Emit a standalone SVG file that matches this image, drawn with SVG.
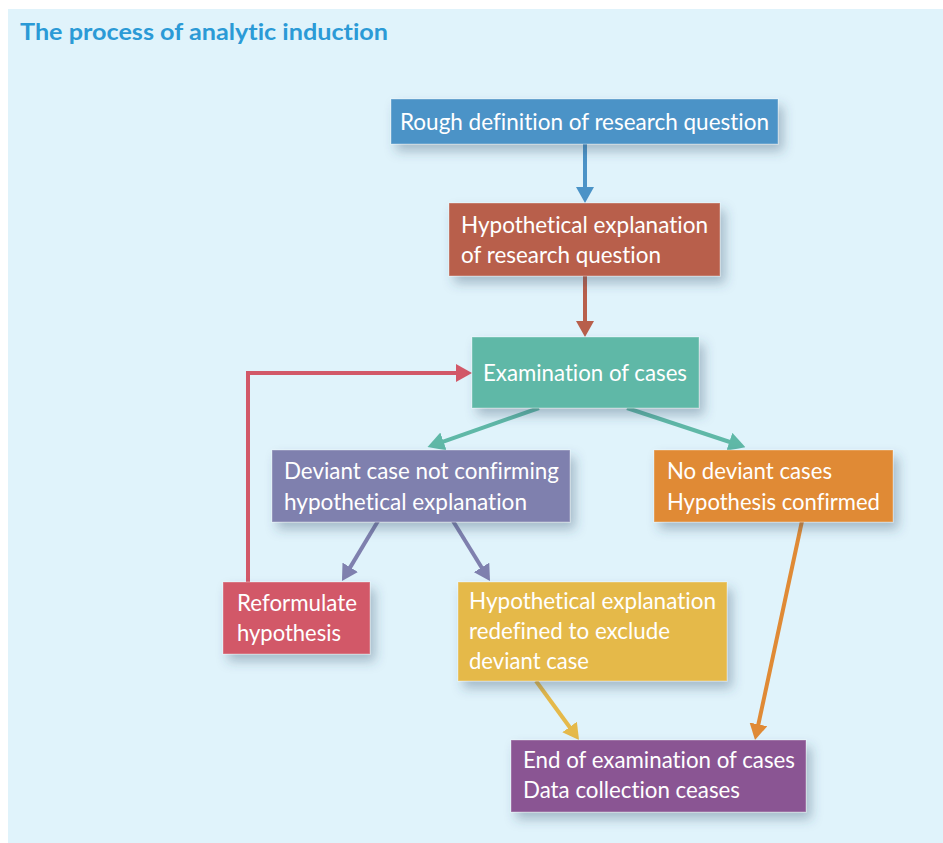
<svg xmlns="http://www.w3.org/2000/svg" width="943" height="843" viewBox="0 0 943 843">
<style>
.t{font-family:Lato,"Open Sans","Liberation Sans",sans-serif;font-size:23.5px;fill:#ffffff;font-variant-ligatures:none}
.title{font-family:Lato,"Open Sans","Liberation Sans",sans-serif;font-size:23.5px;font-weight:bold;fill:#2b9ad6;font-variant-ligatures:none}
.box{filter:url(#sh);stroke:#ffffff;stroke-opacity:0.35;stroke-width:1}
.c{fill:none;stroke-width:4}
</style>
<defs>
<filter id="sh" x="-20%" y="-30%" width="150%" height="180%">
<feDropShadow dx="5" dy="7" stdDeviation="6" flood-color="#35506a" flood-opacity="0.35"/>
</filter>
<marker id="mBlue" viewBox="0 0 16 18" refX="8" refY="9" markerWidth="16" markerHeight="18" markerUnits="userSpaceOnUse" orient="auto"><path d="M0,0 L16,9 L0,18 z" fill="#4b93c7"/></marker>
<marker id="mBrown" viewBox="0 0 16 18" refX="8" refY="9" markerWidth="16" markerHeight="18" markerUnits="userSpaceOnUse" orient="auto"><path d="M0,0 L16,9 L0,18 z" fill="#b85f4b"/></marker>
<marker id="mTeal" viewBox="0 0 16 18" refX="8" refY="9" markerWidth="17" markerHeight="19" markerUnits="userSpaceOnUse" orient="auto"><path d="M0,0 L16,9 L0,18 z" fill="#5fb8a7"/></marker>
<marker id="mSlate" viewBox="0 0 16 18" refX="8" refY="9" markerWidth="16" markerHeight="18" markerUnits="userSpaceOnUse" orient="auto"><path d="M0,0 L16,9 L0,18 z" fill="#7f80ae"/></marker>
<marker id="mRed" viewBox="0 0 16 18" refX="8" refY="9" markerWidth="16" markerHeight="18" markerUnits="userSpaceOnUse" orient="auto"><path d="M0,0 L16,9 L0,18 z" fill="#d25868"/></marker>
<marker id="mYellow" viewBox="0 0 16 18" refX="8" refY="9" markerWidth="16" markerHeight="18" markerUnits="userSpaceOnUse" orient="auto"><path d="M0,0 L16,9 L0,18 z" fill="#e5b94a"/></marker>
<marker id="mOrange" viewBox="0 0 16 18" refX="8" refY="9" markerWidth="16" markerHeight="18" markerUnits="userSpaceOnUse" orient="auto"><path d="M0,0 L16,9 L0,18 z" fill="#e08a35"/></marker>
</defs>
<rect x="0" y="0" width="943" height="843" fill="#ffffff"/>
<rect x="8" y="9" width="935" height="834" fill="#e0f3fb"/>
<text class="title" x="20" y="40" textLength="368" lengthAdjust="spacingAndGlyphs">The process of analytic induction</text>

<g id="connectors">
<line class="c" stroke="#4b93c7" x1="585" y1="144" x2="585" y2="195" marker-end="url(#mBlue)"/>
<line class="c" stroke="#b85f4b" x1="585" y1="276" x2="585" y2="329" marker-end="url(#mBrown)"/>
<line class="c" stroke="#5fb8a7" x1="539" y1="408" x2="435.5" y2="444.3" marker-end="url(#mTeal)"/>
<line class="c" stroke="#5fb8a7" x1="627" y1="408" x2="737.4" y2="444.5" marker-end="url(#mTeal)"/>
<line class="c" stroke="#7f80ae" x1="378" y1="521" x2="346.1" y2="574.1" marker-end="url(#mSlate)"/>
<line class="c" stroke="#7f80ae" x1="453" y1="521" x2="485.8" y2="574.2" marker-end="url(#mSlate)"/>
<polyline class="c" stroke="#d25868" points="248,582 248,373 464,373" marker-end="url(#mRed)"/>
<line class="c" stroke="#e5b94a" x1="536" y1="681" x2="574.3" y2="733.5" marker-end="url(#mYellow)"/>
<line class="c" stroke="#e08a35" x1="802" y1="521" x2="756.7" y2="732.2" marker-end="url(#mOrange)"/>
</g>

<g id="n1">
<rect class="box" x="391" y="99" width="387" height="45" fill="#4b93c7"/>
<text class="t" x="400" y="130" textLength="369" lengthAdjust="spacingAndGlyphs">Rough definition of research question</text>
</g>
<g id="n2">
<rect class="box" x="449" y="203" width="271" height="73" fill="#b85f4b"/>
<text class="t" x="461" y="233" textLength="247" lengthAdjust="spacingAndGlyphs">Hypothetical explanation</text>
<text class="t" x="461" y="263" textLength="200" lengthAdjust="spacingAndGlyphs">of research question</text>
</g>
<g id="n3">
<rect class="box" x="472" y="337" width="227" height="71" fill="#5fb8a7"/>
<text class="t" x="483" y="381" textLength="204" lengthAdjust="spacingAndGlyphs">Examination of cases</text>
</g>
<g id="n4">
<rect class="box" x="272" y="450" width="298" height="72" fill="#7f80ae"/>
<text class="t" x="284" y="479" textLength="275" lengthAdjust="spacingAndGlyphs">Deviant case not confirming</text>
<text class="t" x="284" y="510" textLength="243" lengthAdjust="spacingAndGlyphs">hypothetical explanation</text>
</g>
<g id="n5">
<rect class="box" x="654" y="450" width="239" height="72" fill="#e08a35"/>
<text class="t" x="667" y="479" textLength="165" lengthAdjust="spacingAndGlyphs">No deviant cases</text>
<text class="t" x="667" y="510" textLength="213" lengthAdjust="spacingAndGlyphs">Hypothesis confirmed</text>
</g>
<g id="n6">
<rect class="box" x="223" y="582" width="147" height="72" fill="#d25868"/>
<text class="t" x="237" y="611" textLength="120" lengthAdjust="spacingAndGlyphs">Reformulate</text>
<text class="t" x="237" y="641" textLength="104" lengthAdjust="spacingAndGlyphs">hypothesis</text>
</g>
<g id="n7">
<rect class="box" x="458" y="582" width="269" height="99" fill="#e5b94a"/>
<text class="t" x="469" y="609" textLength="247" lengthAdjust="spacingAndGlyphs">Hypothetical explanation</text>
<text class="t" x="469" y="639" textLength="201" lengthAdjust="spacingAndGlyphs">redefined to exclude</text>
<text class="t" x="469" y="669" textLength="120" lengthAdjust="spacingAndGlyphs">deviant case</text>
</g>
<g id="n8">
<rect class="box" x="511" y="740" width="295" height="72" fill="#8a5593"/>
<text class="t" x="523" y="768" textLength="272" lengthAdjust="spacingAndGlyphs">End of examination of cases</text>
<text class="t" x="523" y="798" textLength="217" lengthAdjust="spacingAndGlyphs">Data collection ceases</text>
</g>
</svg>
